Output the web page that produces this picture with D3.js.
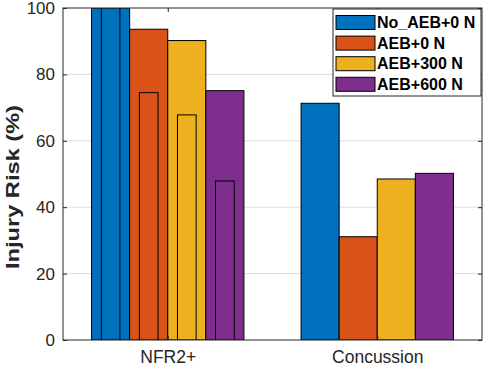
<!DOCTYPE html>
<html>
<head>
<meta charset="utf-8">
<script src="https://cdn.jsdelivr.net/npm/d3@7"></script>
<style>
  body { margin: 0; background: #fff; }
  svg { display: block; font-family: "Liberation Sans", Arial, sans-serif; }
</style>
</head>
<body>
<div class="container"></div>
<script>
// data
var categories = ["NFR2+", "Concussion"];
var seriesNames = ["No_AEB+0 N", "AEB+0 N", "AEB+300 N", "AEB+600 N"];
var seriesColors = ["#0072BD", "#D95319", "#EDB120", "#7E2F8E"];
var nfrValues = [100, 93.6, 90.2, 75.1];
var concussionValues = [71.3, 31.1, 48.5, 50.2];
// narrow bars drawn inside the NFR2+ bars
var nfrInner = [100, 74.5, 67.8, 47.9];
var yTicks = [0, 20, 40, 60, 80, 100];

var width = 484,
    height = 367;
var margin = {top: 8, right: 2, bottom: 27, left: 63};

var svg = d3.select(".container").append("svg")
    .attr("width", width)
    .attr("height", height);

var x = d3.scaleLinear()
    .domain([0.5, 2.5])
    .range([margin.left, width - margin.right]);

var y = d3.scaleLinear()
    .domain([0, 100])
    .range([height - margin.bottom, margin.top]);

// matlab style grouping: 4 bars share 0.727 of a category
var groupWidth = Math.min(0.8, 4 / (4 + 1.5));
var slot = groupWidth / seriesNames.length;

var rows = [];
categories.forEach(function(c, ci) {
  var vals = ci == 0 ? nfrValues : concussionValues;
  seriesNames.forEach(function(s, si) {
    rows.push({cat: ci + 1, si: si, value: vals[si]});
  });
});
var innerRows = nfrInner.map(function(v, si) { return {cat: 1, si: si, value: v}; });

function center(d) { return d.cat - groupWidth / 2 + slot * (d.si + 0.5); }

svg.append("defs").append("clipPath").attr("id", "plot")
  .append("rect")
    .attr("x", margin.left).attr("y", margin.top)
    .attr("width", width - margin.left - margin.right)
    .attr("height", height - margin.top - margin.bottom);

// grid
svg.append("g")
    .selectAll("line")
    .data(yTicks.slice(1, -1))
    .join("line")
      .attr("x1", margin.left).attr("x2", width - margin.right)
      .attr("y1", d => y(d)).attr("y2", d => y(d))
      .attr("stroke", "#dcdcdc")
      .attr("stroke-width", 1);

var plot = svg.append("g").attr("clip-path", "url(#plot)");

// wide bars
plot.append("g")
    .selectAll("rect")
    .data(rows)
    .join("rect")
      .attr("x", d => x(center(d) - slot / 2))
      .attr("y", d => y(d.value))
      .attr("width", d => x(slot) - x(0))
      .attr("height", d => y(0) - y(d.value))
      .attr("fill", d => seriesColors[d.si])
      .attr("stroke", "#000")
      .attr("stroke-width", 1);

// narrow bars
plot.append("g")
    .selectAll("rect")
    .data(innerRows)
    .join("rect")
      .attr("x", d => x(center(d) - slot * 0.245))
      .attr("y", d => y(d.value))
      .attr("width", d => x(slot * 0.49) - x(0))
      .attr("height", d => y(0) - y(d.value))
      .attr("fill", d => seriesColors[d.si])
      .attr("stroke", "#000")
      .attr("stroke-width", 1);

// axes
var yAxis = g => g
    .attr("transform", `translate(${margin.left},0)`)
    .call(d3.axisLeft(y).tickValues(yTicks).tickSize(-4).tickPadding(8))
    .call(g => g.select(".domain").remove())
    .call(g => g.selectAll("line").attr("stroke", "#262626"))
    .call(g => g.selectAll("text").attr("fill", "#262626").style("font-size", "17px")
        .attr("font-family", "'Liberation Sans', Arial, sans-serif"));

var yAxisRight = g => g
    .attr("transform", `translate(${width - margin.right},0)`)
    .call(d3.axisRight(y).tickValues(yTicks).tickSize(-4).tickFormat(""))
    .call(g => g.select(".domain").remove())
    .call(g => g.selectAll("line").attr("stroke", "#262626"));

var xAxis = g => g
    .attr("transform", `translate(0,${height - margin.bottom})`)
    .call(d3.axisBottom(x).tickValues([1, 2]).tickSize(-4).tickPadding(11)
        .tickFormat(d => categories[d - 1]))
    .call(g => g.select(".domain").remove())
    .call(g => g.selectAll("line").attr("stroke", "#262626"))
    .call(g => g.selectAll("text").attr("fill", "#262626").style("font-size", "17.5px")
        .attr("font-family", "'Liberation Sans', Arial, sans-serif"));

var xAxisTop = g => g
    .attr("transform", `translate(0,${margin.top})`)
    .call(d3.axisTop(x).tickValues([1, 2]).tickSize(-4).tickFormat(""))
    .call(g => g.select(".domain").remove())
    .call(g => g.selectAll("line").attr("stroke", "#262626"));

svg.append("g").call(yAxis);
svg.append("g").call(yAxisRight);
svg.append("g").call(xAxis);
svg.append("g").call(xAxisTop);

// box
svg.append("rect")
    .attr("x", margin.left).attr("y", margin.top)
    .attr("width", width - margin.left - margin.right)
    .attr("height", height - margin.top - margin.bottom)
    .attr("fill", "none")
    .attr("stroke", "#262626")
    .attr("stroke-width", 1);

// y label
svg.append("text")
    .attr("transform", "translate(19,187) rotate(-90)")
    .attr("text-anchor", "middle")
    .attr("textLength", 164)
    .attr("lengthAdjust", "spacingAndGlyphs")
    .style("font-size", "19px")
    .style("font-weight", "bold")
    .attr("fill", "#262626")
    .text("Injury Risk (%)");

// legend
var legend = svg.append("g").attr("transform", "translate(333,9)");
legend.append("rect")
    .attr("width", 148).attr("height", 87)
    .attr("fill", "#fff")
    .attr("stroke", "#262626");
var item = legend.selectAll("g")
    .data(seriesNames)
    .join("g")
      .attr("transform", (d, i) => `translate(3,${13.5 + i * 20.6})`);
item.append("rect")
    .attr("x", 0).attr("y", -7)
    .attr("width", 39).attr("height", 14)
    .attr("fill", (d, i) => seriesColors[i])
    .attr("stroke", "#000");
item.append("text")
    .attr("x", 41)
    .attr("dy", "0.36em")
    .style("font-size", "16px")
    .style("font-weight", "bold")
    .attr("fill", "#000")
    .text(d => d);
</script>
</body>
</html>
